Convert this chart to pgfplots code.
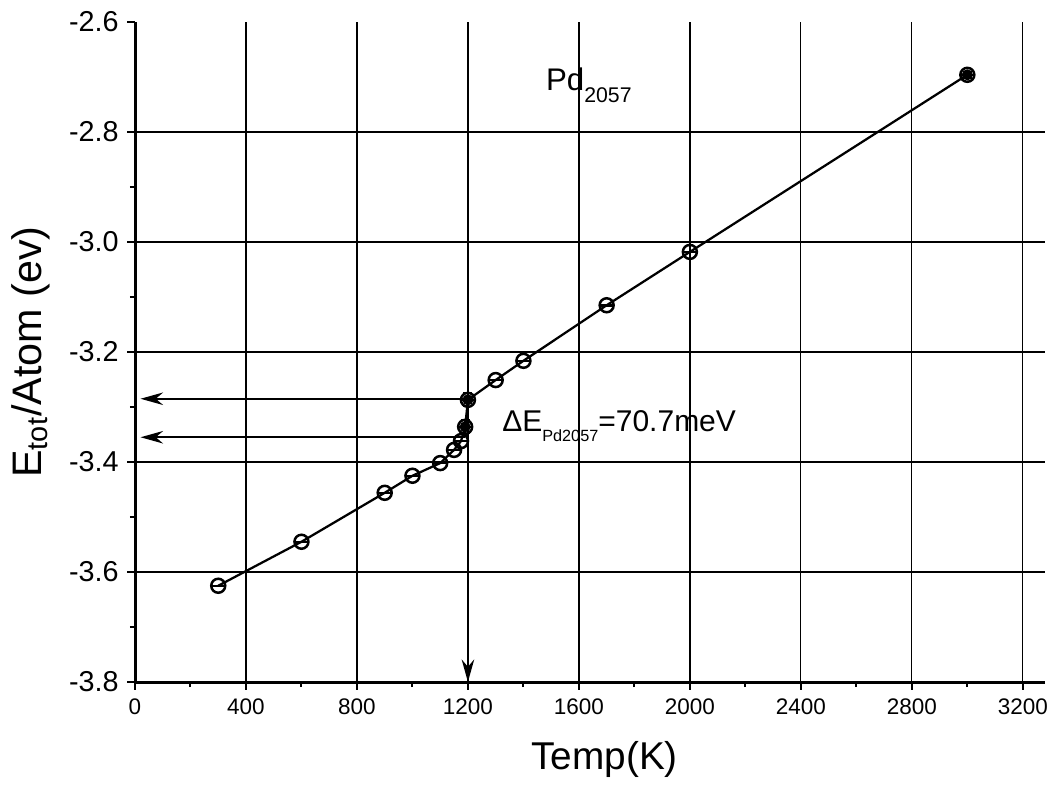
\documentclass[border=0pt]{standalone}
\usepackage{fontspec}
\setmainfont{Liberation Sans}
\usepackage{pgfplots}
\usepackage{pgfplotstable}
\pgfplotsset{compat=1.18}
\usetikzlibrary{arrows.meta}
\pgfplotstableread{
T E
300 -3.625
600 -3.545
900 -3.456
1000 -3.425
1100 -3.402
1150 -3.378
1175 -3.362
1190 -3.336
1200 -3.287
1300 -3.251
1400 -3.216
1700 -3.115
2000 -3.018
3000 -2.696
}\datatable
\begin{document}
\begin{tikzpicture}
\useasboundingbox (-54pt,-40.8pt) rectangle (365.6pt,272.8pt);
\begin{axis}[
  scale only axis, width=364pt, height=264pt,
  xmin=0, xmax=3280, ymin=-3.8, ymax=-2.6,
  clip=false,
  axis x line*=bottom, axis y line*=left,
  axis line style={line width=1.2pt},
  xtick={0,400,...,3200},
  ytick={-3.8,-3.6,-3.4,-3.2,-3.0,-2.8},
  extra y ticks={-2.6}, extra y tick style={grid=none},
  minor x tick num=1, minor y tick num=1,
  tick align=outside, major tick length=3pt, minor tick length=2pt,
  tick style={line width=0.8pt, black},
  grid=major, grid style={line width=0.5pt, black},
  /pgf/number format/assume math mode=true,
  yticklabel style={/pgf/number format/.cd, fixed, fixed zerofill, precision=1, /tikz/.cd, font=\fontsize{11.5}{13}\selectfont},
  xticklabel style={/pgf/number format/.cd, fixed, 1000 sep={}, /tikz/.cd, font=\fontsize{9}{11}\selectfont},
  xlabel={Temp(K)},
  ylabel={E\textsubscript{tot}/Atom (ev)},
  every axis x label/.style={at={(axis description cs:0.516,-0.118)}, anchor=center, font=\fontsize{15.5}{18}\selectfont},
  every axis y label/.style={at={(axis description cs:-0.115,0.5)}, anchor=center, rotate=90, font=\fontsize{16.5}{19}\selectfont},
]
\addplot[black, line width=0.9pt, mark=o, mark size=2.8pt, mark options={line width=1pt, fill=white}] table[x=T, y=E] {\datatable};
\addplot[only marks, black, mark=-, mark size=2.8pt, mark options={line width=1pt}] table[x=T, y=E] {\datatable};
\addplot[only marks, black, mark=none, error bars/.cd, y dir=both, y explicit, error bar style={line width=0.7pt}, error mark options={rotate=90, mark size=1.8pt, line width=0.7pt}] coordinates {(1190,-3.336) +- (0,0.012) (1200,-3.287) +- (0,0.012) (3000,-2.696) +- (0,0.006)};
\draw[line width=0.8pt, -{Stealth[length=9pt,width=5pt]}] (axis cs:1200,-3.285) -- (axis cs:20,-3.285);
\draw[line width=0.8pt, -{Stealth[length=9pt,width=5pt]}] (axis cs:1190,-3.355) -- (axis cs:20,-3.355);
\draw[line width=0.9pt, -{Stealth[length=9pt,width=5pt]}] (axis cs:1200,-3.345) -- (axis cs:1200,-3.8);
\node[anchor=base west, inner sep=0pt, font=\fontsize{12.5}{15}\selectfont] at (axis cs:1480,-2.724) {Pd\raisebox{-5pt}{\fontsize{8.5}{10}\selectfont 2057}};
\node[anchor=base west, inner sep=0pt, font=\fontsize{12}{14}\selectfont] at (axis cs:1322,-3.345) {ΔE\raisebox{-4pt}{\fontsize{6.5}{8}\selectfont Pd2057}=70.7meV};
\end{axis}
\end{tikzpicture}
\end{document}
